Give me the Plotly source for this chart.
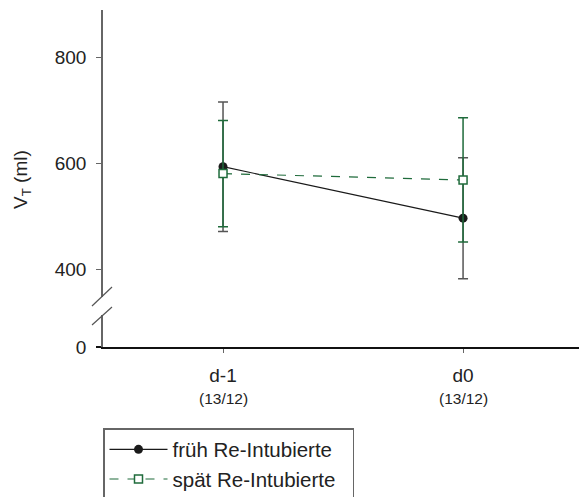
import plotly.graph_objects as go

categories = ["d-1", "d0"]
sub_labels = ["(13/12)", "(13/12)"]
series_names = ["früh Re-Intubierte", "spät Re-Intubierte"]
frueh_mean = [594, 497]
frueh_err = [122, 114]
spaet_mean = [581, 569]
spaet_err = [100, 117]

W, H = 579, 497
ML, MR, MT, MB = 103, 0, 10, 150
PW, PH = W - ML - MR, H - MT - MB

def px(xp):
    return (xp - ML) / PW

def py(yp):
    return (H - MB - yp) / PH

FONT = "Arial, Liberation Sans, sans-serif"
GREEN = "#1f6b3b"
AXIS_GRAY = "#666666"
PAD = "\u00a0\u00a0"  # extra room at the right of the legend box

fig = go.Figure()
fig.add_trace(go.Scatter(
    x=categories, y=frueh_mean, name=series_names[0] + PAD,
    mode="lines+markers",
    line=dict(color="#1a1a1a", width=1.2),
    marker=dict(symbol="circle", size=9, color="#1a1a1a"),
    error_y=dict(type="data", array=frueh_err, color="#555555", thickness=1.5, width=5),
))
fig.add_trace(go.Scatter(
    x=categories, y=spaet_mean, name=series_names[1] + PAD,
    mode="lines+markers",
    line=dict(color=GREEN, width=1.2, dash="dash"),
    marker=dict(symbol="square", size=8, color="white", line=dict(color=GREEN, width=1.5)),
    error_y=dict(type="data", array=spaet_err, color=GREEN, thickness=1.5, width=5),
))
# invisible helper so the lower (broken) axis segment is created
fig.add_trace(go.Scatter(
    x=categories, y=[0, 0], yaxis="y2", mode="markers",
    marker=dict(opacity=0), showlegend=False, hoverinfo="skip",
))

upper_bottom = py(297)
lower_top = py(315)

fig.update_layout(
    width=W, height=H,
    margin=dict(l=ML, r=MR, t=MT, b=MB, autoexpand=False),
    paper_bgcolor="white", plot_bgcolor="white",
    font=dict(family=FONT, size=19, color="#222222"),
    showlegend=True,
    legend=dict(
        x=0, xanchor="left", y=py(428), yanchor="top",
        bordercolor=AXIS_GRAY, borderwidth=1.5,
        font=dict(size=20.5, color="#222222"),
        itemwidth=58, tracegroupgap=0,
        bgcolor="white",
    ),
    xaxis=dict(
        type="category", range=[-0.5, 1.483], anchor="y2", automargin=False,
        showline=True, linecolor="#111111", linewidth=1.5,
        ticks="outside", ticklen=4, tickcolor=AXIS_GRAY, tickwidth=1.2,
        showgrid=False, zeroline=False,
        tickfont=dict(size=19), ticklabelstandoff=6,
    ),
    yaxis=dict(
        domain=[upper_bottom, 1], range=[348.6, 889], anchor="x", automargin=False,
        tickvals=[400, 600, 800],
        showline=True, linecolor=AXIS_GRAY, linewidth=1.5,
        ticks="outside", ticklen=5, tickcolor=AXIS_GRAY, tickwidth=1.2,
        showgrid=False, zeroline=False,
        tickfont=dict(size=19), ticklabelstandoff=6,
    ),
    yaxis2=dict(
        domain=[0, lower_top], range=[0, 60], anchor="x", automargin=False,
        tickvals=[0],
        showline=True, linecolor=AXIS_GRAY, linewidth=1.5,
        ticks="outside", ticklen=5, tickcolor="#111111", tickwidth=1.5,
        showgrid=False, zeroline=False,
        tickfont=dict(size=19), ticklabelstandoff=6,
    ),
)

# sub labels below category ticks
for c, s in zip(categories, sub_labels):
    fig.add_annotation(x=c, xref="x", y=py(398), yref="paper", text=s,
                       showarrow=False, font=dict(size=15.5, color="#222222"),
                       xanchor="center", yanchor="middle")

# y axis title
fig.add_annotation(x=px(22), xref="paper", y=py(180), yref="paper",
                   text="V<sub>T</sub> (ml)", textangle=-90, showarrow=False,
                   font=dict(size=19, color="#222222"),
                   xanchor="center", yanchor="middle")

# axis break marks
for (x0, y0, x1, y1) in [(92, 306, 112, 287), (92, 325, 112, 307)]:
    fig.add_shape(type="line", xref="paper", yref="paper",
                  x0=px(x0), y0=py(y0), x1=px(x1), y1=py(y1),
                  line=dict(color="#555555", width=1.2))

fig.write_html("out.html", config={"displayModeBar": False},
               post_script="document.body.style.margin='0';")
